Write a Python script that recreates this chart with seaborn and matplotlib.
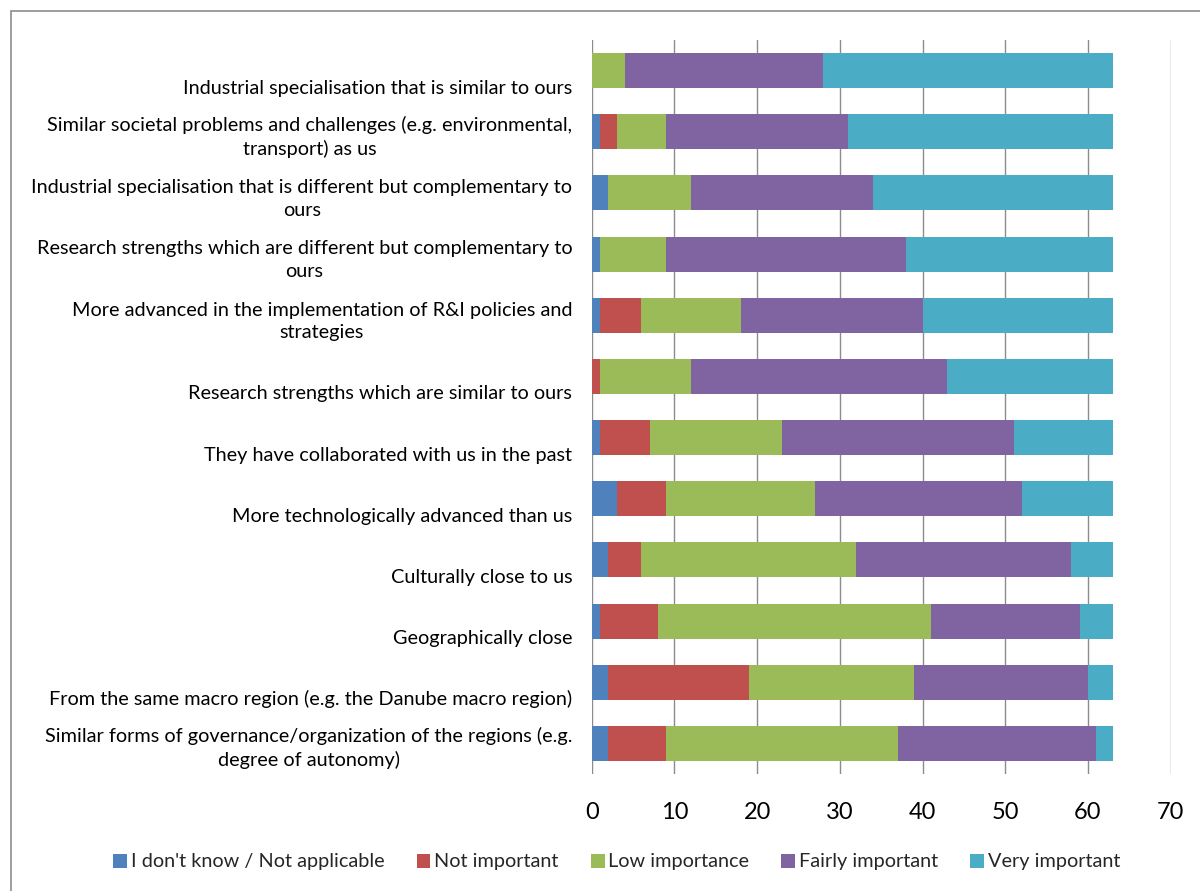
import matplotlib
matplotlib.use("Agg")
import matplotlib.pyplot as plt
import matplotlib.transforms as mtransforms
from matplotlib.patches import Rectangle, Patch
import seaborn as sns
import pandas as pd

# Categories, top to bottom
categories = [
    "Industrial specialisation that is similar to ours",
    "Similar societal problems and challenges (e.g. environmental,\ntransport) as us",
    "Industrial specialisation that is different but complementary to\nours",
    "Research strengths which are different but complementary to\nours",
    "More advanced in the implementation of R&I policies and\nstrategies",
    "Research strengths which are similar to ours",
    "They have collaborated with us in the past",
    "More technologically advanced than us",
    "Culturally close to us",
    "Geographically close",
    "From the same macro region (e.g. the Danube macro region)",
    "Similar forms of governance/organization of the regions (e.g.\ndegree of autonomy)",
]

dont_know = [0, 1, 2, 1, 1, 0, 1, 3, 2, 1, 2, 2]
not_important = [0, 2, 0, 0, 5, 1, 6, 6, 4, 7, 17, 7]
low_importance = [4, 6, 10, 8, 12, 11, 16, 18, 26, 33, 20, 28]
fairly_important = [24, 22, 22, 29, 22, 31, 28, 25, 26, 18, 21, 24]
very_important = [35, 32, 29, 25, 23, 20, 12, 11, 5, 4, 3, 2]

series_names = ["I don't know / Not applicable", "Not important", "Low importance",
                "Fairly important", "Very important"]
series_values = [dont_know, not_important, low_importance, fairly_important, very_important]
colors = ["#4F81BD", "#C0504D", "#9BBB59", "#8064A2", "#4BACC6"]

df = pd.DataFrame({"category": categories})
running = [0] * len(categories)
cum_cols = []
for name, vals in zip(series_names, series_values):
    running = [r + v for r, v in zip(running, vals)]
    df[name] = running
    cum_cols.append(name)

sns.set_style("white")
plt.rcParams["font.family"] = ["Lato", "DejaVu Sans"]

fig = plt.figure(figsize=(12, 8.91), dpi=100)
ax = fig.add_axes([591.7 / 1200, 1 - 774 / 891, (1170.7 - 591.7) / 1200, (774 - 40) / 891])

# stacked look: draw cumulative totals from largest to smallest
for name, color in reversed(list(zip(cum_cols, colors))):
    sns.barplot(data=df, x=name, y="category", orient="h", color=color,
                saturation=1, width=0.574, linewidth=0, ax=ax, zorder=3)

ax.set_xlim(0, 70)
ax.set_ylim(11.5, -0.5)
ax.set_xticks(range(0, 71, 10))
ax.xaxis.grid(True, color="#8c8c8c", linewidth=1.0, zorder=0)
ax.yaxis.grid(False)
ax.set_axisbelow(True)
for s in ax.spines.values():
    s.set_visible(False)
ax.set_xlabel("")
ax.set_ylabel("")
ax.tick_params(axis="x", length=0, pad=20, labelsize=17, labelcolor="#000000")
ax.tick_params(axis="y", length=0, pad=14, labelsize=14.3, labelcolor="#000000")

offset = mtransforms.ScaledTranslation(0, -26 / 100, fig.dpi_scale_trans)
for lbl in ax.get_yticklabels():
    lbl.set_multialignment("center")
    lbl.set_linespacing(1.4)
    lbl.set_va("bottom")
    lbl.set_transform(lbl.get_transform() + offset)

handles = [Patch(facecolor=c, edgecolor="none") for c in colors]
fig.legend(handles, series_names, loc="center", bbox_to_anchor=(0.514, 1 - 862 / 891),
           ncol=5, frameon=False, fontsize=14.3, handlelength=0.7, handleheight=0.7,
           handletextpad=0.2, columnspacing=1.6)

fig.patches.append(Rectangle((11 / 1200, -0.05), 1.1, 1 - 11 / 891 + 0.05,
                             transform=fig.transFigure, fill=False,
                             edgecolor="#8c8c8c", linewidth=1.2))

fig.savefig("out.png", dpi=100)
